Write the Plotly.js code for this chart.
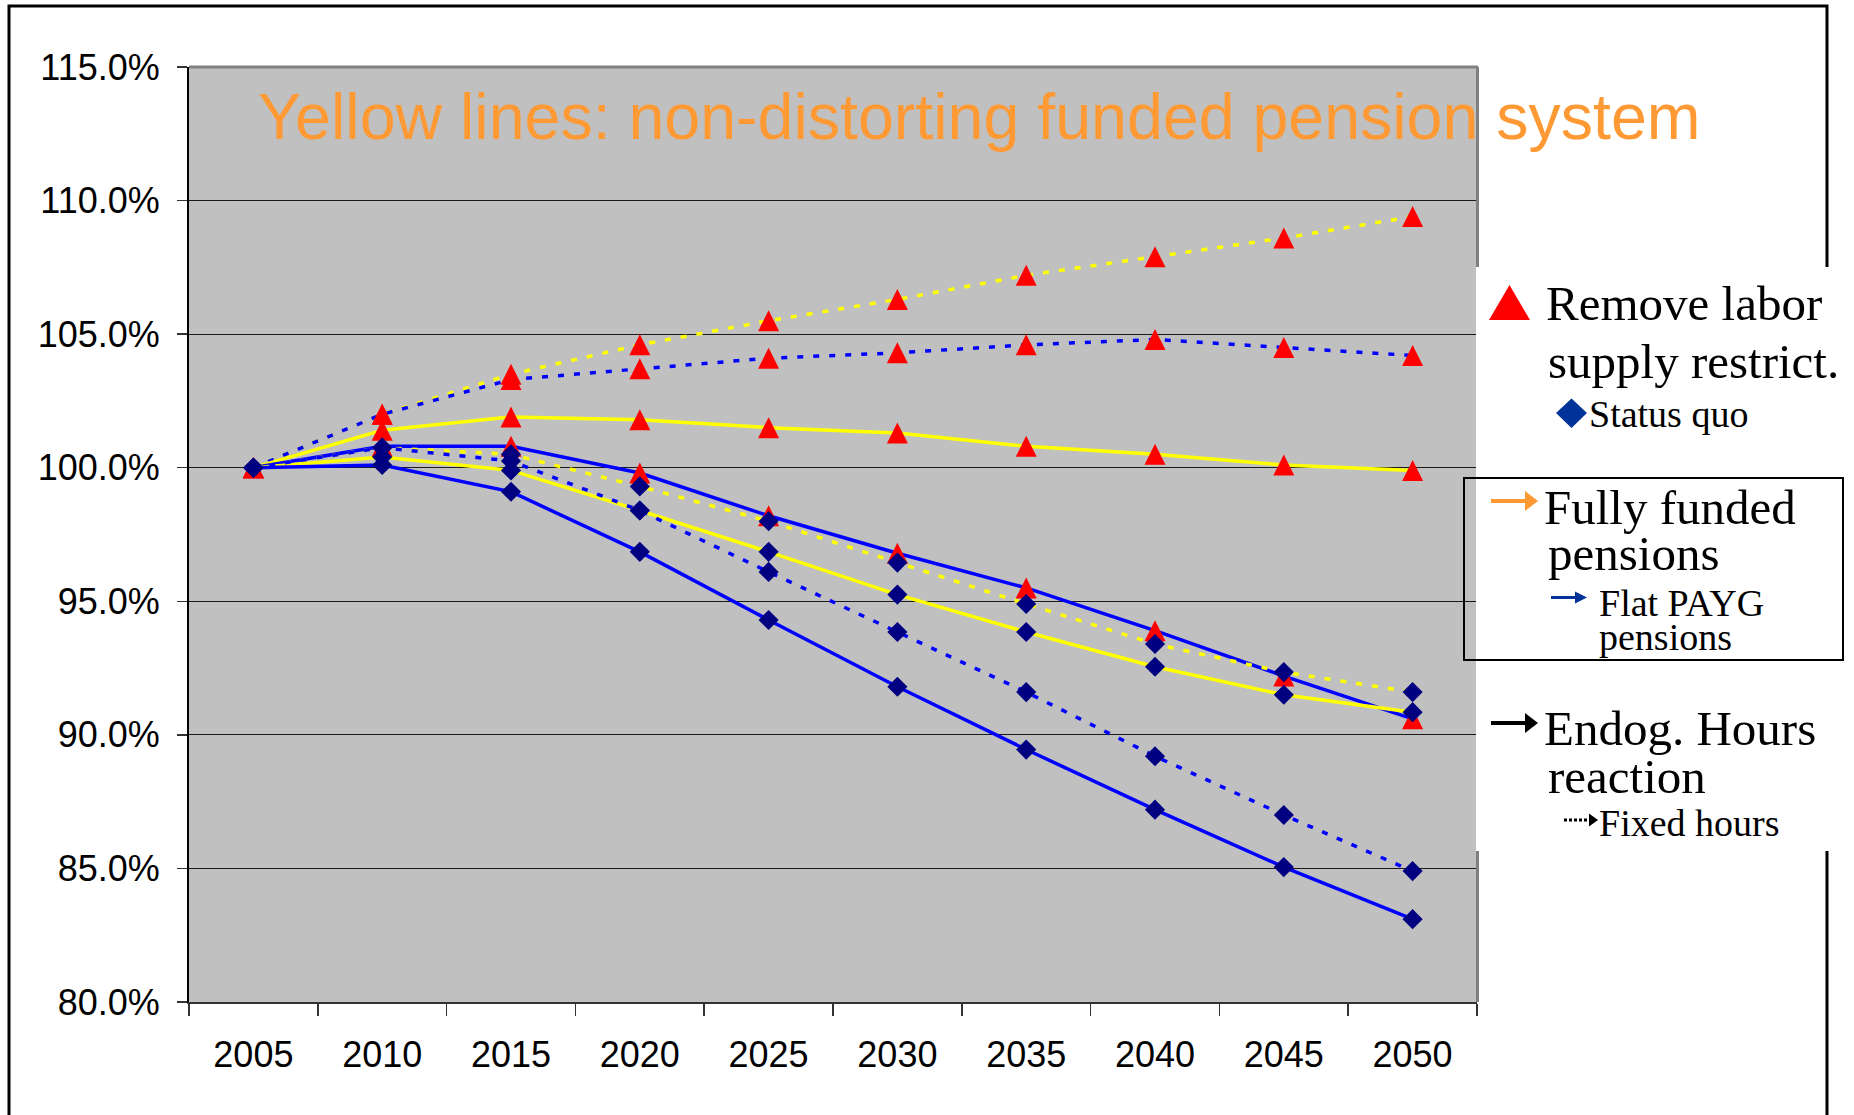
<!DOCTYPE html>
<html><head><meta charset="utf-8">
<script src="https://cdn.plot.ly/plotly-3.0.1.min.js"></script>
<style>html,body{margin:0;padding:0;background:#fff;}#chart{width:1854px;height:1115px;}</style>
</head><body><div id="chart"></div>
<script>
// ---- data (values in percent, 2005 = 100) ----
const years = ['2005','2010','2015','2020','2025','2030','2035','2040','2045','2050'];
// Remove labor supply restrictions (red triangles)
const remFundFixed = [100, 102.0, 103.5, 104.6, 105.5, 106.3, 107.2, 107.9, 108.6, 109.4];
const remPaygFixed = [100, 102.0, 103.3, 103.7, 104.1, 104.3, 104.6, 104.8, 104.5, 104.2];
const remFundEndog = [100, 101.4, 101.9, 101.8, 101.5, 101.3, 100.8, 100.5, 100.1, 99.9];
const remPaygEndog = [100, 100.8, 100.8, 99.8, 98.2, 96.8, 95.5, 93.9, 92.2, 90.6];
// Status quo (navy diamonds)
const sqFundFixed = [100, 100.75, 100.5, 99.3, 98.0, 96.45, 94.9, 93.4, 92.35, 91.6];
const sqFundEndog = [100, 100.4, 99.9, 98.4, 96.85, 95.25, 93.85, 92.55, 91.5, 90.85];
const sqPaygFixed = [100, 100.75, 100.25, 98.4, 96.1, 93.85, 91.6, 89.2, 87.0, 84.9];
const sqPaygEndog = [100, 100.1, 99.1, 96.85, 94.3, 91.8, 89.45, 87.2, 85.05, 83.1];

const titleText = 'Yellow lines: non-distorting funded pension system';

// ---- styles ----
const YELLOW = '#FFFF00', BLUE = '#0000FF', RED = '#FF0000', NAVY = '#000080';
const DOT = '6px,10px';
const series = [
  {y: remFundFixed, color: YELLOW, dash: DOT, mk: 'tri'},
  {y: remPaygFixed, color: BLUE, dash: DOT, mk: 'tri'},
  {y: remFundEndog, color: YELLOW, dash: 'solid', mk: 'tri'},
  {y: remPaygEndog, color: BLUE, dash: 'solid', mk: 'tri'},
  {y: sqFundFixed, color: YELLOW, dash: DOT, mk: 'dia'},
  {y: sqFundEndog, color: YELLOW, dash: 'solid', mk: 'dia'},
  {y: sqPaygFixed, color: BLUE, dash: DOT, mk: 'dia'},
  {y: sqPaygEndog, color: BLUE, dash: 'solid', mk: 'dia'}
];

const traces = [];
series.forEach(s => traces.push({
  type: 'scatter', mode: 'lines', x: years, y: s.y, hoverinfo: 'skip',
  line: {color: s.color, width: 3.5, dash: s.dash}, showlegend: false
}));
series.filter(s => s.mk === 'tri').forEach(s => traces.push({
  type: 'scatter', mode: 'markers', x: years, y: s.y, showlegend: false,
  marker: {symbol: 'arrow-down', angle: 180, standoff: 10.5, size: 21, color: RED, line: {width: 0}}
}));
series.filter(s => s.mk === 'dia').forEach(s => traces.push({
  type: 'scatter', mode: 'markers', x: years, y: s.y, showlegend: false,
  marker: {symbol: 'diamond', size: 15.5, color: NAVY, line: {width: 0}}
}));

// ---- pixel helpers for decorations ----
const L = 189, R = 1477, T = 67, B = 1002;
const X = px => (px - L) / (R - L);
const Y = py => (B - py) / (B - T);

const shapes = [];
// plot-area top and right border (gray)
shapes.push({type:'line', xref:'paper', yref:'paper', x0:X(189), x1:X(1478), y0:Y(67), y1:Y(67), line:{color:'#808080', width:3}, layer:'above'});
shapes.push({type:'line', xref:'paper', yref:'paper', x0:X(1477.5), x1:X(1477.5), y0:Y(67), y1:Y(1002), line:{color:'#808080', width:3}, layer:'above'});
// outer slide frame
shapes.push({type:'rect', xref:'paper', yref:'paper', x0:X(9), x1:X(1827), y0:Y(6), y1:Y(1140), line:{color:'#000', width:3}, layer:'above'});
// legend white panel
shapes.push({type:'rect', xref:'paper', yref:'paper', x0:X(1476), x1:X(1870), y0:Y(267), y1:Y(851), fillcolor:'#FFFFFF', line:{width:0}, layer:'above'});
// boxed legend part
shapes.push({type:'rect', xref:'paper', yref:'paper', x0:X(1464), x1:X(1843), y0:Y(478), y1:Y(660), line:{color:'#000', width:2}, layer:'above'});
// legend symbols
const path = pts => 'M' + pts.map(p => X(p[0]) + ',' + Y(p[1])).join(' L') + ' Z';
shapes.push({type:'path', xref:'paper', yref:'paper', path: path([[1489,320],[1530,320],[1509.5,285]]), fillcolor:RED, line:{width:0}, layer:'above'});
shapes.push({type:'path', xref:'paper', yref:'paper', path: path([[1556,413],[1571.5,398.5],[1587,413],[1571.5,428]]), fillcolor:'#003399', line:{width:0}, layer:'above'});
function arrow(x0, x1, y, color, lw, headLen, headH, dash) {
  shapes.push({type:'line', xref:'paper', yref:'paper', x0:X(x0), x1:X(x1-headLen+1), y0:Y(y), y1:Y(y), line:{color:color, width:lw, dash:dash||'solid'}, layer:'above'});
  shapes.push({type:'path', xref:'paper', yref:'paper', path: path([[x1-headLen,y-headH/2],[x1,y],[x1-headLen,y+headH/2]]), fillcolor:color, line:{width:0}, layer:'above'});
}
arrow(1491, 1538, 501, '#FF9933', 4, 13, 20);
arrow(1551, 1587, 597.5, '#003399', 3, 12, 12);
arrow(1491, 1538, 723, '#000000', 4, 13, 20);
arrow(1564, 1598, 820, '#000000', 3, 9, 13, '3px,2px');

const SERIF = 'Liberation Serif, Times New Roman, serif';
const annotations = [];
function txt(s, xL, base, size) {
  annotations.push({xref:'paper', yref:'paper', x:X(xL - 2), y:Y(base - 0.34*size), xanchor:'left', yanchor:'middle',
    text:s, showarrow:false, borderpad:0, font:{family:SERIF, size:size, color:'#000'}});
}
txt('Remove labor', 1547, 320, 49);
txt('supply restrict.', 1549, 378, 49);
txt('Status quo', 1590, 427, 38);
txt('Fully funded', 1545, 524, 49);
txt('pensions', 1549, 570, 49);
txt('Flat PAYG', 1600, 615.5, 38);
txt('pensions', 1600, 650, 38);
txt('Endog. Hours', 1545, 745.6, 49);
txt('reaction', 1549, 792.7, 49);
txt('Fixed hours', 1600, 836, 38);
annotations.push({xref:'paper', yref:'paper', x:X(256), y:Y(117.5), xanchor:'left', yanchor:'middle',
  text:titleText, showarrow:false, font:{family:'Liberation Sans, Arial, sans-serif', size:64.5, color:'#FF9933'}});

const TICKFONT = {family:'Liberation Sans, Arial, sans-serif', size:36, color:'#000'};
const layout = {
  width:1854, height:1115,
  margin:{l:L, r:1854-R, t:T, b:1115-B, pad:0},
  paper_bgcolor:'#FFFFFF', plot_bgcolor:'#C0C0C0',
  showlegend:false,
  xaxis:{type:'category', categoryorder:'array', categoryarray:years, range:[-0.5, 9.5],
    tickson:'boundaries', ticks:'outside', ticklen:12, tickwidth:1.5, tickcolor:'#333',
    showline:true, linecolor:'#333', linewidth:2, showgrid:false, zeroline:false,
    tickfont:TICKFONT, ticklabelstandoff:20, fixedrange:true},
  yaxis:{range:[80,115], tick0:80, dtick:5, tickformat:'.1f', ticksuffix:'%',
    ticks:'outside', ticklen:10, tickwidth:1.5, tickcolor:'#333',
    showline:true, linecolor:'#000', linewidth:2,
    showgrid:true, gridcolor:'#1a1a1a', gridwidth:1, zeroline:false,
    tickfont:TICKFONT, ticklabelstandoff:10, fixedrange:true},
  shapes:shapes, annotations:annotations
};
Plotly.newPlot('chart', traces, layout, {displayModeBar:false, staticPlot:true});
</script></body></html>
